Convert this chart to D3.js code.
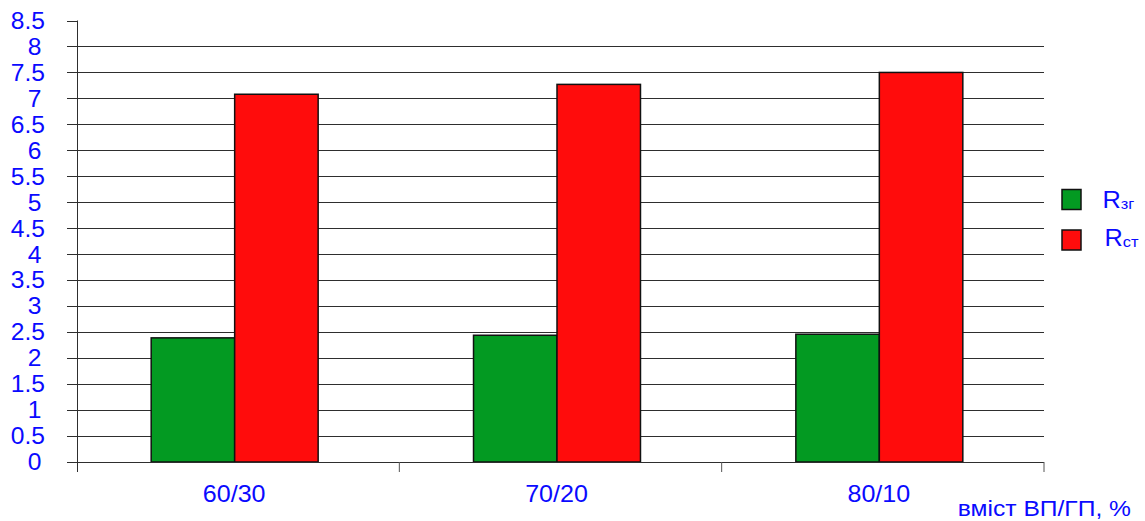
<!DOCTYPE html>
<html>
<head>
<meta charset="utf-8">
<script src="https://cdn.jsdelivr.net/npm/d3@7"></script>
<style>
  html, body { margin: 0; padding: 0; background: #ffffff; }
  svg { display: block; }
  text { font-family: "Liberation Sans", Arial, sans-serif; fill: #0a0aff; }
</style>
</head>
<body>
<svg id="chart" width="1145" height="521"></svg>
<script>
// Mixture composition (ВП/ГП, %) and measured strengths
const categories = ["60/30", "70/20", "80/10"];
const seriesNames = ["Rзг", "Rст"];
const rzg = [2.39, 2.44, 2.46];
const rst = [7.08, 7.27, 7.5];
const yTicks = [0, 0.5, 1, 1.5, 2, 2.5, 3, 3.5, 4, 4.5, 5, 5.5, 6, 6.5, 7, 7.5, 8, 8.5];
const xTitle = "вміст ВП/ГП, %";

const colors = { "Rзг": "#039a22", "Rст": "#ff0c0c" };

const svg = d3.select("#chart");
const plot = { left: 77, right: 1044, top: 20.5, bottom: 462 };

const x0 = d3.scaleBand().domain(categories).range([plot.left, plot.right]).padding(0);
const y = d3.scaleLinear().domain([0, 8.5]).range([plot.bottom, plot.top]);

const groupWidth = x0.bandwidth() * 0.518;
const x1 = d3.scaleBand().domain(seriesNames).range([0, groupWidth]).padding(0);
const groupShift = -3.5;

// Horizontal gridlines (with short tick stubs left of the axis)
const grid = svg.append("g");
grid.selectAll("line")
  .data(yTicks.filter(v => v > 0 && v < 8.5))
  .join("line")
  .attr("x1", plot.left - 10).attr("x2", plot.right)
  .attr("y1", d => Math.round(y(d)) + 0.5).attr("y2", d => Math.round(y(d)) + 0.5)
  .attr("stroke", "#2e2e2e").attr("stroke-width", 1);

// Top tick stub only
svg.append("line")
  .attr("x1", plot.left - 10).attr("x2", plot.left + 0.5)
  .attr("y1", Math.round(y(8.5)) + 0.5).attr("y2", Math.round(y(8.5)) + 0.5)
  .attr("stroke", "#2e2e2e");

// Bars
const rows = categories.map((c, i) => ({ cat: c, values: [
  { key: "Rзг", value: rzg[i] }, { key: "Rст", value: rst[i] } ] }));

const groups = svg.append("g").selectAll("g")
  .data(rows)
  .join("g")
  .attr("transform", d => `translate(${x0(d.cat) + (x0.bandwidth() - groupWidth) / 2 + groupShift},0)`);

groups.selectAll("rect")
  .data(d => d.values)
  .join("rect")
  .attr("x", d => x1(d.key))
  .attr("y", d => y(d.value))
  .attr("width", x1.bandwidth())
  .attr("height", d => y(0) - y(d.value))
  .attr("fill", d => colors[d.key])
  .attr("stroke", "#111")
  .attr("stroke-width", 1.5);

// Y axis line
svg.append("line")
  .attr("x1", plot.left + 0.5).attr("x2", plot.left + 0.5)
  .attr("y1", y(8.5)).attr("y2", plot.bottom + 10)
  .attr("stroke", "#2e2e2e");

// X axis line and category separators
svg.append("line")
  .attr("x1", plot.left - 10).attr("x2", plot.right)
  .attr("y1", Math.round(y(0)) + 0.5).attr("y2", Math.round(y(0)) + 0.5)
  .attr("stroke", "#2e2e2e");

svg.append("g").selectAll("line")
  .data(categories)
  .join("line")
  .attr("x1", d => x0(d) + x0.bandwidth()).attr("x2", d => x0(d) + x0.bandwidth())
  .attr("y1", y(0)).attr("y2", plot.bottom + 10)
  .attr("stroke", "#555");

// Y tick labels
svg.append("g").selectAll("text")
  .data(yTicks)
  .join("text")
  .attr("transform", d => `translate(${Number.isInteger(d) ? 41.5 : 45},${y(d)}) scale(1.07,1)`)
  .attr("text-anchor", "end")
  .attr("dy", "0.36em")
  .style("font-size", "23px")
  .text(d => String(d));

// Category labels
svg.append("g").selectAll("text")
  .data(categories)
  .join("text")
  .attr("transform", d => `translate(${x0(d) + x0.bandwidth() / 2 - 4},501.5) scale(1.09,1)`)
  .attr("text-anchor", "middle")
  .style("font-size", "23px")
  .text(d => d);

// Axis title
svg.append("text")
  .attr("transform", `translate(1131,516) scale(1.12,1)`)
  .attr("text-anchor", "end")
  .style("font-size", "22px")
  .text(xTitle);

// Legend
const legend = svg.append("g");
const legendY = [189.5, 230];
const legendTextX = [1102.5, 1104.5];
const legendBase = [208.3, 245.7];
seriesNames.forEach((name, i) => {
  legend.append("rect")
    .attr("x", 1062).attr("y", legendY[i])
    .attr("width", 19).attr("height", 20)
    .attr("fill", colors[name])
    .attr("stroke", "#111").attr("stroke-width", 1.5);
  const t = legend.append("text")
    .attr("transform", `translate(${legendTextX[i]},${legendBase[i]}) scale(1.1,1)`)
    .style("font-size", "23px");
  t.append("tspan").text(name.charAt(0));
  t.append("tspan").attr("dy", 1).style("font-size", "15px").text(name.slice(1));
});
</script>
</body>
</html>
